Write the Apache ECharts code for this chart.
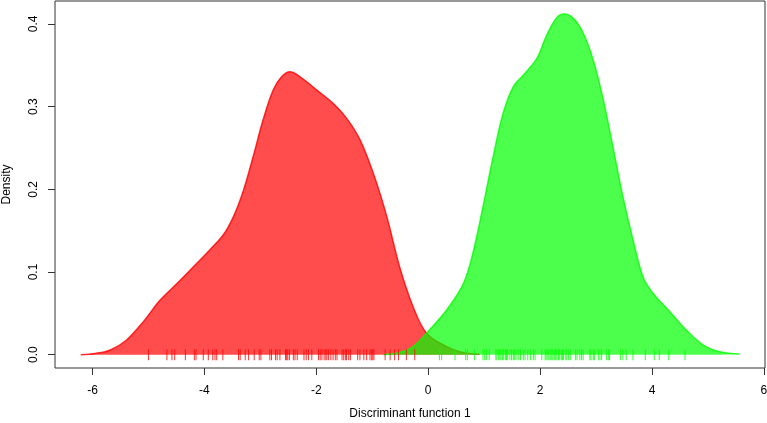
<!DOCTYPE html>
<html>
<head>
<meta charset="utf-8">
<script src="https://cdn.jsdelivr.net/npm/echarts@6/dist/echarts.min.js"></script>
<style>html,body{margin:0;padding:0;background:#fff}#c{width:767px;height:423px}</style>
</head>
<body>
<div id="c"></div>
<script>
var redX = [-6.21,-5.95,-5.68,-5.39,-5.09,-4.79,-4.49,-4.20,-3.90,-3.66,-3.48,-3.30,-3.13,-2.95,-2.77,-2.62,-2.47,-2.29,-1.99,-1.70,-1.46,-1.22,-0.98,-0.74,-0.51,-0.27,-0.03,0.33,0.60,0.92];
var redY = [0,0.0015,0.0057,0.0178,0.040,0.066,0.086,0.106,0.127,0.145,0.167,0.199,0.239,0.284,0.320,0.336,0.342,0.336,0.320,0.304,0.286,0.260,0.219,0.167,0.106,0.058,0.026,0.0097,0.003,0.0005];
var greenX = [-0.80,-0.50,-0.27,0.01,0.33,0.63,0.80,0.98,1.16,1.34,1.52,1.70,1.94,2.11,2.29,2.43,2.59,2.77,2.95,3.13,3.30,3.48,3.66,3.84,4.02,4.32,4.61,4.91,5.21,5.57];
var greenY = [0,0.003,0.0097,0.029,0.054,0.086,0.123,0.179,0.239,0.292,0.324,0.338,0.358,0.385,0.407,0.412,0.407,0.389,0.356,0.308,0.252,0.191,0.139,0.094,0.074,0.052,0.030,0.012,0.0036,0.0008];
var redRug = [-5.00,-4.67,-4.58,-4.53,-4.34,-4.18,-4.15,-4.02,-3.93,-3.85,-3.81,-3.78,-3.67,-3.39,-3.36,-3.27,-3.21,-3.11,-3.02,-2.99,-2.83,-2.80,-2.73,-2.70,-2.65,-2.55,-2.53,-2.51,-2.48,-2.41,-2.38,-2.34,-2.22,-2.18,-2.14,-2.08,-1.96,-1.93,-1.90,-1.86,-1.83,-1.81,-1.78,-1.74,-1.70,-1.66,-1.63,-1.54,-1.51,-1.48,-1.46,-1.42,-1.39,-1.26,-1.22,-1.15,-1.10,-1.04,-1.01,-0.99,-0.97,-0.77,-0.68,-0.60,-0.53,-0.39,-0.24];
var greenRug = [0.20,0.24,0.48,0.67,0.70,0.83,0.98,1.01,1.04,1.09,1.21,1.23,1.26,1.28,1.30,1.33,1.35,1.38,1.40,1.42,1.46,1.49,1.52,1.54,1.57,1.61,1.65,1.70,1.73,1.78,1.83,1.88,1.91,2.03,2.09,2.11,2.14,2.16,2.19,2.21,2.23,2.26,2.28,2.30,2.33,2.35,2.38,2.40,2.42,2.46,2.48,2.51,2.54,2.63,2.66,2.71,2.74,2.77,2.89,2.91,2.95,2.97,3.04,3.07,3.10,3.19,3.22,3.24,3.44,3.48,3.54,3.66,3.88,4.04,4.13,4.30,4.59];
var xTicks = [-6,-4,-2,0,2,4,6];
var yTicks = [0,0.1,0.2,0.3,0.4];
var xTitle = 'Discriminant function 1';
var yTitle = 'Density';

function pairs(xs, ys){ return xs.map(function(x,i){ return [x, ys[i]]; }); }
function rug(xs){ return xs.map(function(x){ return [x, 0]; }); }

var font = '"Liberation Sans", Arial, Helvetica, sans-serif';
var chart = echarts.init(document.getElementById('c'), null, {renderer:'canvas'});
chart.setOption({
  animation: false,
  backgroundColor: '#ffffff',
  grid: {left: 55, right: 2, top: 1, bottom: 55, show: true, borderColor: '#333', borderWidth: 1, containLabel: false, outerBoundsMode: 'none'},
  xAxis: {
    type: 'value', min: -6.67, max: 6.02,
    name: xTitle, nameLocation: 'middle', nameGap: 40,
    nameTextStyle: {fontFamily: font, fontSize: 12, color: '#000'},
    axisLine: {show: false, onZero: false},
    splitLine: {show: false},
    axisTick: {show: true, length: 7, lineStyle: {color: '#333'}, customValues: xTicks},
    axisLabel: {fontFamily: font, fontSize: 12, color: '#000', margin: 17, customValues: xTicks, formatter: function(v){ return String(v); }}
  },
  yAxis: {
    type: 'value', min: -0.0161, max: 0.4277,
    name: yTitle, nameLocation: 'middle', nameGap: 42,
    nameTextStyle: {fontFamily: font, fontSize: 12, color: '#000'},
    axisLine: {show: false, onZero: false},
    splitLine: {show: false},
    axisTick: {show: true, length: 7, lineStyle: {color: '#333'}, customValues: yTicks},
    axisLabel: {fontFamily: font, fontSize: 12, color: '#000', margin: 15, rotate: 90, customValues: yTicks, formatter: function(v){ return v.toFixed(1); }}
  },
  series: [
    {type: 'line', data: pairs(redX, redY), smooth: 0.35, symbol: 'none', z: 2,
     lineStyle: {color: 'rgba(255,0,0,0.8)', width: 1.5},
     areaStyle: {color: 'rgba(255,0,0,0.7)', opacity: 1}},
    {type: 'line', data: pairs(greenX, greenY), smooth: 0.35, symbol: 'none', z: 3,
     lineStyle: {color: 'rgba(0,255,0,0.8)', width: 1.5},
     areaStyle: {color: 'rgba(0,255,0,0.7)', opacity: 1}},
    {type: 'scatter', data: rug(redRug), symbol: 'rect', symbolSize: [1, 11], z: 4,
     itemStyle: {color: '#ff0000'}, silent: true},
    {type: 'scatter', data: rug(greenRug), symbol: 'rect', symbolSize: [1, 11], z: 4,
     itemStyle: {color: '#00ff00'}, silent: true}
  ]
});
</script>
</body>
</html>
